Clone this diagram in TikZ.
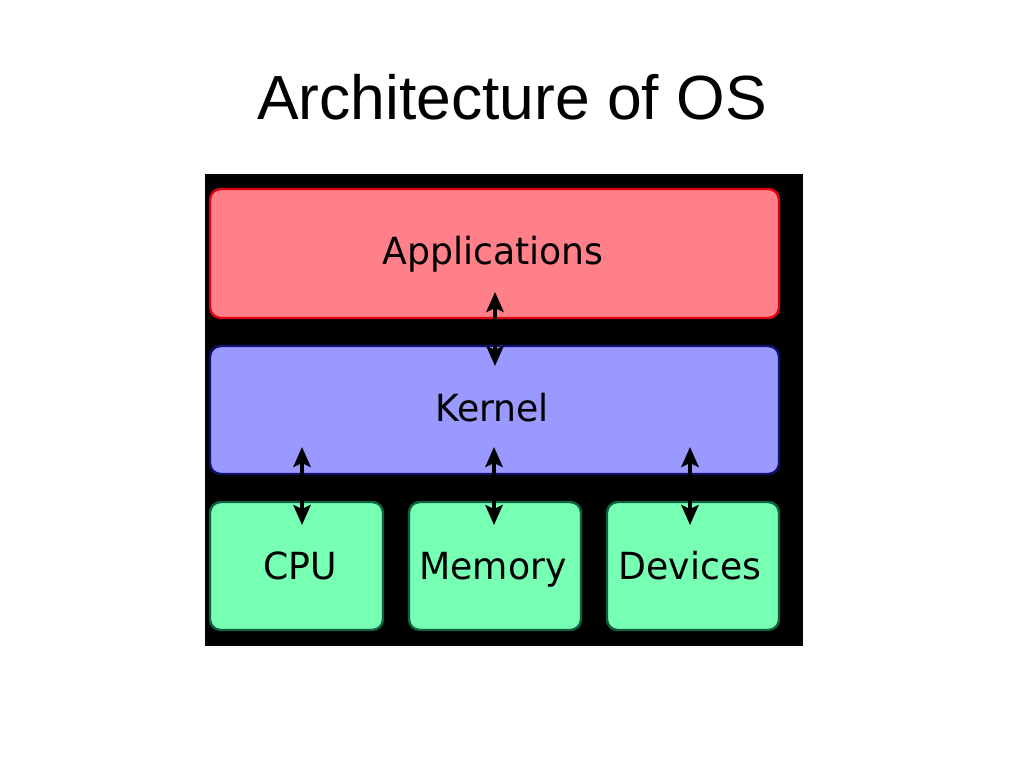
\documentclass[tikz,border=0pt]{standalone}
\usepackage{fontspec}
\setmainfont{Liberation Sans}
\newfontfamily\boxfont{DejaVu Sans}
\usetikzlibrary{arrows.meta}
\definecolor{appfill}{HTML}{FF8088}
\definecolor{appdraw}{HTML}{E00010}
\definecolor{kerfill}{HTML}{9999FF}
\definecolor{kerdraw}{HTML}{101070}
\definecolor{hwfill}{HTML}{77FFB4}
\definecolor{hwdraw}{HTML}{106040}
\tikzset{
  layer/.style={rounded corners=8, line width=1.8},
  lbl/.style={font=\boxfont\fontsize{28}{30}\selectfont, inner sep=0pt, anchor=base},
  tipshape/.style={Stealth[length=15pt,width=13pt,inset=3pt]},
  link/.style={{Stealth[length=15pt,width=13pt,inset=3pt]}-{Stealth[length=15pt,width=13pt,inset=3pt]}, line width=2.6pt, black}
}
\begin{document}
\begin{tikzpicture}[x=0.75pt,y=-0.75pt]
\useasboundingbox (0,0) rectangle (1024,768);
\fill[white] (0,0) rectangle (1024,768);
\node[font=\fontsize{46.8}{50}\selectfont, anchor=base, inner sep=0pt] (title) at (512,119) {Architecture of OS};
\fill[black] (205,174) rectangle (803,646);
\draw[layer, fill=appfill, draw=appdraw] (210,189) rectangle (779,318);
\draw[layer, fill=kerfill, draw=kerdraw] (210,346) rectangle (779,474);
\draw[layer, fill=hwfill, draw=hwdraw] (210,502) rectangle (383,630);
\draw[layer, fill=hwfill, draw=hwdraw] (409,502) rectangle (581,630);
\draw[layer, fill=hwfill, draw=hwdraw] (607,502) rectangle (779,630);
\node[lbl] (app) at (493,264) {\scalebox{0.97}[1]{Applications}};
\node[lbl] (ker) at (492,421) {\scalebox{0.97}[1]{Kernel}};
\node[lbl] (cpu) at (300,579) {\scalebox{0.97}[1]{CPU}};
\node[lbl] (mem) at (493,579) {\scalebox{0.97}[1]{Memory}};
\node[lbl] (dev) at (690,579) {\scalebox{0.97}[1]{Devices}};
\coordinate (a1) at (495,292);
\coordinate (a2) at (495,366);
\coordinate (c1) at (302,447);
\coordinate (c2) at (302,525);
\coordinate (m1) at (494,447);
\coordinate (m2) at (494,525);
\coordinate (d1) at (690,447);
\coordinate (d2) at (690,525);
\draw[link] (a1) -- (a2);
\draw[link] (c1) -- (c2);
\draw[link] (m1) -- (m2);
\draw[link] (d1) -- (d2);
\end{tikzpicture}
\end{document}
